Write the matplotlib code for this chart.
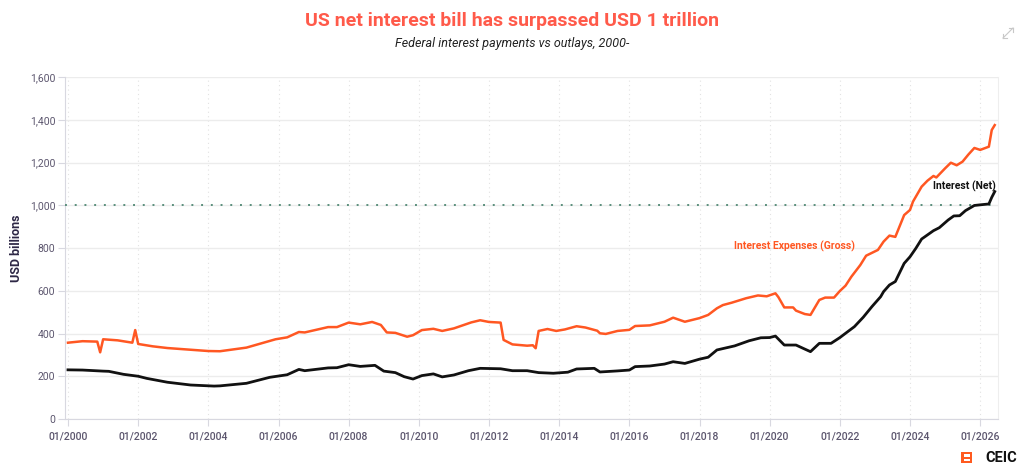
import matplotlib
matplotlib.use("Agg")
import matplotlib.pyplot as plt
from matplotlib.patches import Polygon
from matplotlib.lines import Line2D
import pandas as pd

# ---------------- data ----------------
gross_dates = ["2000-01","2000-06","2000-11","2000-12","2001-01","2001-06","2001-11","2001-12",
               "2002-01","2002-06","2002-11","2003-06","2004-01","2004-05","2005-02","2005-12",
               "2006-04","2006-08","2006-10","2007-06","2007-09","2008-01","2008-05","2008-09",
               "2008-12","2009-02","2009-05","2009-09","2009-11","2010-02","2010-06","2010-09",
               "2011-01","2011-07","2011-10","2012-01","2012-05","2012-06","2012-09","2013-02",
               "2013-04","2013-05","2013-06","2013-09","2013-12","2014-03","2014-07","2014-10",
               "2015-02","2015-03","2015-05","2015-09","2016-01","2016-03","2016-08","2017-01",
               "2017-04","2017-08","2018-01","2018-04","2018-07","2018-09","2018-12","2019-05",
               "2019-09","2019-12","2020-03","2020-04","2020-06","2020-09","2020-10","2021-01",
               "2021-03","2021-06","2021-08","2021-11","2022-01","2022-03","2022-05","2022-08",
               "2022-10","2023-02","2023-04","2023-06","2023-08","2023-11","2024-01","2024-02",
               "2024-05","2024-07","2024-09","2024-10","2025-01","2025-03","2025-05","2025-07",
               "2025-09","2025-11","2026-01","2026-04","2026-05","2026-06"]
gross_values = [357,364,362,312,373,368,357,416,
                351,340,332,325,318,317,334,373,
                382,407,405,430,430,451,443,454,
                440,405,403,385,392,416,422,412,
                424,452,462,454,451,370,349,343,
                345,331,412,421,412,419,434,428,
                413,401,398,412,417,435,438,455,
                474,455,472,487,518,533,544,565,
                578,574,588,570,522,522,507,491,
                487,557,568,568,599,624,666,720,
                764,791,830,858,852,954,978,1017,
                1087,1115,1137,1130,1173,1199,1187,1204,
                1238,1268,1259,1274,1352,1375]

net_dates = ["2000-01","2000-06","2001-01","2001-03","2001-08","2002-01","2002-04","2002-11",
             "2003-07","2004-03","2004-05","2005-02","2005-10","2006-04","2006-08","2006-10",
             "2007-06","2007-09","2008-01","2008-05","2008-10","2009-01","2009-05","2009-08",
             "2009-11","2010-02","2010-06","2010-09","2011-01","2011-06","2011-10","2012-05",
             "2012-09","2013-02","2013-06","2013-11","2014-04","2014-07","2015-01","2015-03",
             "2015-09","2016-01","2016-03","2016-08","2017-01","2017-04","2017-08","2018-01",
             "2018-04","2018-07","2019-01","2019-06","2019-10","2020-01","2020-03","2020-06",
             "2020-10","2021-01","2021-03","2021-06","2021-10","2022-01","2022-03","2022-06",
             "2022-09","2022-12","2023-03","2023-04","2023-06","2023-08","2023-11","2024-01",
             "2024-03","2024-05","2024-09","2024-11","2025-02","2025-04","2025-06","2025-08",
             "2025-11","2026-01","2026-04","2026-05","2026-06"]
net_values = [230,229,224,223,209,200,190,172,
              159,154,155,167,195,207,232,226,
              239,240,254,246,251,224,217,198,
              187,203,211,197,206,226,237,235,
              226,226,217,214,219,234,237,220,
              225,229,245,248,257,268,260,280,
              289,323,342,366,380,381,388,346,
              346,327,315,354,354,381,401,432,
              476,526,572,596,627,643,728,759,
              798,842,881,895,931,950,951,975,
              999,1002,1006,1037,1064]

threshold = 1000
y_ticks = [0, 200, 400, 600, 800, 1000, 1200, 1400, 1600]
x_tick_years = list(range(2000, 2027, 2))

title = "US net interest bill has surpassed USD 1 trillion"
subtitle = "Federal interest payments vs outlays, 2000-"
ylabel = "USD billions"
gross_label = "Interest Expenses (Gross)"
net_label = "Interest (Net)"

# ---------------- styles ----------------
ORANGE = "#ff5722"
BLACK = "#111111"
TITLE_C = "#ff5a4a"
TICK_C = "#5c566e"
GRID_C = "#ececec"
GREEN = "#5b8f7c"

plt.rcParams['font.family'] = ['Roboto', 'DejaVu Sans']

fig = plt.figure(figsize=(10.24, 4.73), dpi=100)
ax = fig.add_axes([65/1024, 1-419/473, (998-65)/1024, (419-77)/473])

gd = pd.to_datetime(gross_dates)
nd = pd.to_datetime(net_dates)

ax.plot(gd, gross_values, color=ORANGE, lw=1.8, zorder=4, solid_joinstyle='round')
ax.plot(nd, net_values, color=BLACK, lw=2.0, zorder=4, solid_joinstyle='round')
ax.axhline(threshold, color=GREEN, lw=1.4, ls=(0, (1, 4)), zorder=3)

ax.set_ylim(0, 1600)
ax.set_xlim(pd.Timestamp("1999-12-01"), pd.Timestamp("2026-07-05"))
ax.set_yticks(y_ticks)
ax.set_yticklabels([f"{v:,}" for v in y_ticks])
xt = [pd.Timestamp(f"{y}-01-01") for y in x_tick_years]
ax.set_xticks(xt)
ax.set_xticklabels([f"01/{y}" for y in x_tick_years])

ax.grid(axis='y', color=GRID_C, lw=1.0, zorder=0)
for t in xt:
    ax.axvline(t, color="#e2e2e2", lw=0.8, ls=(0, (1, 3)), zorder=0)

ax.spines['top'].set_visible(False)
ax.spines['right'].set_color("#eeeeee")
ax.spines['left'].set_color("#d8d8e0")
ax.spines['bottom'].set_color("#d8d8e0")

ax.tick_params(axis='y', colors=TICK_C, labelsize=7.5, length=5, width=0.8, pad=2)
ax.tick_params(axis='x', colors=TICK_C, labelsize=7.5, length=5, width=0.8, pad=4)
ax.tick_params(axis='both', color="#d8d8e0")
for lab in ax.get_xticklabels():
    lab.set_fontweight('medium')
    lab.set_color(TICK_C)

ax.set_ylabel(ylabel, color="#2d2745", fontsize=9, fontweight='bold', labelpad=5)

ax.text(pd.Timestamp("2026-06-10"), 1090, net_label, color=BLACK, fontsize=7.5,
        fontweight='bold', ha='right', va='center', zorder=5)
ax.text(pd.Timestamp("2020-09-20"), 810, gross_label, color=ORANGE, fontsize=7.5,
        fontweight='bold', ha='center', va='center', zorder=5)

fig.text(0.5, 1-21/473, title, color=TITLE_C, fontsize=14, fontweight='bold',
         ha='center', va='center')
fig.text(0.5, 1-44/473, subtitle, color="#222222", fontsize=9, style='italic',
         ha='center', va='center')

# expand icon (top right)
ic_c = "#c8c8c8"
for seg in [([1003, 1013], [38, 28]), ([1003, 1003], [38, 34]), ([1003, 1007], [38, 38]),
            ([1013, 1013], [28, 32]), ([1013, 1009], [28, 28])]:
    fig.add_artist(Line2D([v/1024 for v in seg[0]], [1-v/473 for v in seg[1]], color=ic_c, lw=0.8))

# CEIC logo
def px(x, y):
    return (x/1024, 1-y/473)
ic = "#ff5a1f"
shapes = [
    [(961, 452), (963.5, 452), (963.5, 463), (961, 463)],          # left bar
    [(969.5, 452), (972, 452), (972, 463), (969.5, 463)],          # right bar
    [(963.5, 452), (969.5, 452), (969.5, 454.3), (963.5, 454.3)],  # top bar
    [(963.5, 460.7), (969.5, 460.7), (969.5, 463), (963.5, 463)],  # bottom bar
    [(963.5, 456.5), (969.5, 456.5), (969.5, 458.7), (963.5, 458.7)],  # middle bar
]
for sh in shapes:
    fig.add_artist(Polygon([px(*p) for p in sh], closed=True, color=ic, lw=0,
                           transform=fig.transFigure))
fig.text(985/1024, 1-458/473, "CEIC", color="#111111", fontsize=10.5, fontweight='bold',
         ha='left', va='center')

fig.savefig("out.png", dpi=100, facecolor="white")
